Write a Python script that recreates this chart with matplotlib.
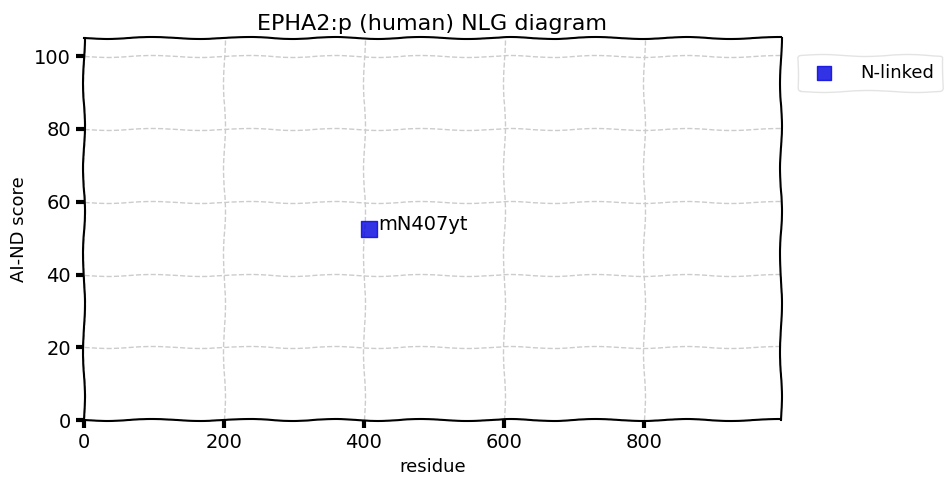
import matplotlib
matplotlib.use("Agg")
import matplotlib.pyplot as plt

# glycosylation sites
residues = [407]
scores = [52.5]
labels = ["mN407yt"]
site_type = "N-linked"
protein_len = 976

with plt.xkcd(scale=1, length=100, randomness=2):
    plt.rcParams["font.family"] = ["DejaVu Sans"]
    plt.rcParams["path.effects"] = []
    fig = plt.figure(figsize=(9.48, 4.92), dpi=100)
    ax = fig.add_axes([0.0886, 0.146, 0.735, 0.777])
    ax.scatter(residues, scores, marker="s", s=130, color="#0000e0", alpha=0.8,
               label=site_type, zorder=3)
    for x, y, lab in zip(residues, scores, labels):
        ax.annotate(lab, (x, y), xytext=(7, 3), textcoords="offset points",
                    fontsize=14, va="center")
    ax.set_xlim(0, protein_len + 20)
    ax.set_ylim(0, 105)
    ax.set_xticks([0, 200, 400, 600, 800])
    ax.set_yticks([0, 20, 40, 60, 80, 100])
    ax.grid(True, ls="--", color="#cccccc", lw=1)
    ax.set_axisbelow(True)
    ax.tick_params(labelsize=14, width=3, length=6)
    ax.set_xlabel("residue", fontsize=13)
    ax.set_ylabel("AI-ND score", fontsize=13)
    ax.set_title("EPHA2:p (human) NLG diagram", fontsize=16)
    ax.legend(loc="upper left", bbox_to_anchor=(1.01, 0.98), fontsize=13,
              markerscale=0.9, borderpad=0.5, handletextpad=1.0,
              edgecolor="#dddddd")
    fig.savefig("out.png", dpi=100)
